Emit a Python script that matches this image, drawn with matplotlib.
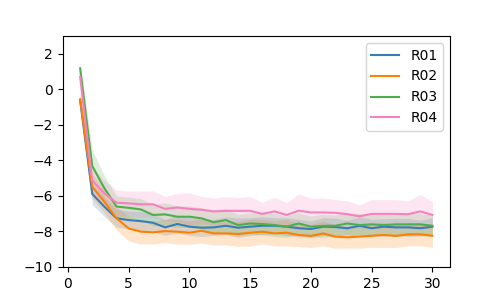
import numpy as np
import matplotlib
matplotlib.use("Agg")
import matplotlib.pyplot as plt

# x positions (1..30)
steps = list(range(1, 31))

# mean curves
r01 = [-0.60, -5.89, -6.61, -7.26, -7.36, -7.42, -7.51, -7.77, -7.58, -7.73,
       -7.79, -7.77, -7.68, -7.79, -7.73, -7.68, -7.68, -7.73, -7.82, -7.86,
       -7.73, -7.75, -7.82, -7.68, -7.82, -7.73, -7.77, -7.77, -7.82, -7.73]
r02 = [-0.56, -5.48, -6.33, -7.26, -7.83, -8.01, -8.05, -7.98, -8.01, -8.07,
       -7.96, -8.11, -8.11, -8.14, -8.07, -8.01, -8.11, -8.07, -8.20, -8.25,
       -8.11, -8.29, -8.33, -8.29, -8.24, -8.20, -8.25, -8.16, -8.16, -8.24]
r03 = [1.18, -4.32, -5.57, -6.60, -6.67, -6.76, -7.07, -7.04, -7.17, -7.17,
       -7.26, -7.48, -7.36, -7.64, -7.55, -7.58, -7.64, -7.73, -7.55, -7.73,
       -7.68, -7.68, -7.55, -7.64, -7.60, -7.64, -7.60, -7.60, -7.60, -7.68]
r04 = [0.71, -5.14, -5.85, -6.38, -6.42, -6.47, -6.47, -6.73, -6.65, -6.73,
       -6.78, -6.87, -6.84, -6.84, -6.84, -7.01, -6.87, -7.07, -6.83, -6.93,
       -6.93, -6.95, -7.03, -7.15, -7.01, -7.01, -7.01, -7.03, -6.87, -7.07]

# half-width of the shaded bands (rough reading)
r01_err = [0.40, 0.60, 0.55, 0.50, 0.50, 0.55, 0.50, 0.45, 0.50, 0.50,
           0.50, 0.45, 0.50, 0.55, 0.50, 0.50, 0.45, 0.50, 0.50, 0.45,
           0.50, 0.50, 0.45, 0.50, 0.50, 0.45, 0.50, 0.50, 0.45, 0.50]
r02_err = [0.40, 0.70, 0.65, 0.65, 0.70, 0.70, 0.65, 0.65, 0.70, 0.65,
           0.70, 0.65, 0.65, 0.70, 0.75, 0.70, 0.70, 0.75, 0.65, 0.65,
           0.70, 0.65, 0.60, 0.65, 0.65, 0.70, 0.65, 0.65, 0.65, 0.65]
r03_err = [0.40, 0.90, 0.70, 0.60, 0.60, 0.60, 0.60, 0.65, 0.60, 0.60,
           0.60, 0.60, 0.65, 0.60, 0.60, 0.60, 0.65, 0.60, 0.60, 0.60,
           0.65, 0.60, 0.60, 0.65, 0.60, 0.60, 0.60, 0.65, 0.60, 0.60]
r04_err = [0.40, 0.80, 0.70, 0.70, 0.70, 0.75, 0.75, 0.70, 0.80, 0.90,
           0.75, 0.75, 0.80, 0.75, 0.80, 0.65, 0.80, 0.70, 0.95, 0.80,
           0.80, 0.75, 0.75, 0.65, 0.80, 0.80, 0.80, 0.75, 0.95, 0.75]

labels = ["R01", "R02", "R03", "R04"]
colors = ["#377eb8", "#ff7f00", "#4daf4a", "#f781bf"]

fig, ax = plt.subplots(figsize=(5, 3), dpi=100)

for y, err, lab, c in zip([r01, r02, r03, r04],
                          [r01_err, r02_err, r03_err, r04_err],
                          labels, colors):
    y = np.array(y)
    err = np.array(err)
    ax.fill_between(steps, y - err, y + err, color=c, alpha=0.2, linewidth=0)
    ax.plot(steps, y, color=c, label=lab)

ax.set_ylim(-10, 3)
ax.set_yticks([-10, -8, -6, -4, -2, 0, 2])
ax.legend(loc="upper right")

plt.savefig("out.png", dpi=100)
